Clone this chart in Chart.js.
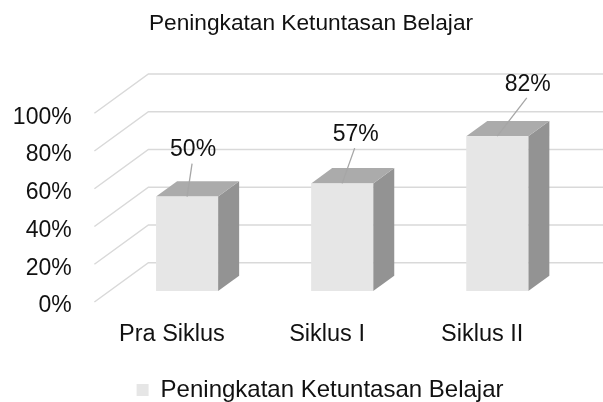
<!DOCTYPE html>
<html>
<head>
<meta charset="utf-8">
<script src="https://cdn.jsdelivr.net/npm/chart.js@4/dist/chart.umd.min.js"></script>
<style>
html,body{margin:0;padding:0;background:#fff;}
</style>
</head>
<body>
<canvas id="grafik" width="603" height="402"></canvas>
<script>
var KATEGORI=["Pra Siklus","Siklus I","Siklus II"];
var NILAI=[50,57,82];
var SERI="Peningkatan Ketuntasan Belajar";
var TICKS_Y=[0,20,40,60,80,100];

// 3D depth (pixels) and where the bars sit inside that depth
var DX=54, DY=-39.3;
var F1=0.28, F2=0.67;
// label position relative to the bar top (Excel moved them by hand)
var LABEL_OFF=[[6,-49],[13.5,-51.3],[30.5,-54.3]];
var FONT="'Liberation Sans', Arial, sans-serif";

function poly(ctx,pts){
	ctx.beginPath();
	ctx.moveTo(pts[0][0],pts[0][1]);
	for(var i=1;i<pts.length;i++) ctx.lineTo(pts[i][0],pts[i][1]);
	ctx.closePath();
	ctx.fill();
}

var efek3D={
	id:'efek3D',
	afterLayout:function(chart){
		// legend sits a bit left of the plot centre in the original
		chart.legend.left-=7;
		chart.legend.right-=7;
	},
	beforeDatasetsDraw:function(chart){
		var ctx=chart.ctx, y=chart.scales.y, area=chart.chartArea;
		ctx.save();
		// walls
		ctx.strokeStyle='#d9d9d9';
		ctx.lineWidth=1.5;
		y.ticks.forEach(function(t){
			var py=y.getPixelForValue(t.value);
			ctx.beginPath();
			ctx.moveTo(area.left,py);
			ctx.lineTo(area.left+DX,py+DY);
			ctx.lineTo(chart.width,py+DY);
			ctx.stroke();
		});
		var meta=chart.getDatasetMeta(0);
		var ddx=(F2-F1)*DX, ddy=(F2-F1)*DY;
		meta.data.forEach(function(bar,i){
			var w=bar.width/2;
			var x0=bar.x-w+F1*DX, x1=bar.x+w+F1*DX;
			var top=bar.y+F1*DY, base=bar.base+F1*DY;
			ctx.fillStyle='#939393';
			poly(ctx,[[x1,top],[x1+ddx,top+ddy],[x1+ddx,base+ddy],[x1,base]]);
			ctx.fillStyle='#ababab';
			poly(ctx,[[x0,top],[x0+ddx,top+ddy],[x1+ddx,top+ddy],[x1,top]]);
			ctx.fillStyle='#e6e6e6';
			ctx.fillRect(x0,top,x1-x0,base-top);
			// label + leader line
			var cx=(x0+x1)/2;
			var lx=cx+LABEL_OFF[i][0], ly=top+LABEL_OFF[i][1];
			ctx.strokeStyle='#a6a6a6';
			ctx.lineWidth=1.3;
			ctx.beginPath();
			ctx.moveTo(lx-1,ly+16);
			ctx.lineTo(cx,top);
			ctx.stroke();
			ctx.fillStyle='#111';
			ctx.font='23px '+FONT;
			ctx.textAlign='center';
			ctx.textBaseline='middle';
			ctx.fillText(NILAI[i]+'%',lx,ly+2.5);
		});
		ctx.restore();
		return false;
	}
};

new Chart(document.getElementById('grafik').getContext('2d'),{
	type:'bar',
	data:{
		labels:KATEGORI,
		datasets:[{
			label:SERI,
			data:NILAI,
			backgroundColor:'#e6e6e6',
			barPercentage:0.4,
			categoryPercentage:1
		}]
	},
	options:{
		responsive:false,
		animation:false,
		devicePixelRatio:1,
		layout:{padding:{left:12,right:-7,top:0,bottom:0}},
		scales:{
			x:{
				grid:{display:false,drawTicks:false},
				border:{display:false},
				ticks:{padding:18,color:'#111',font:{family:FONT,size:23.5}},
				afterFit:function(s){ s.height=70; }
			},
			y:{
				min:0,max:100,
				grid:{display:false,drawTicks:false},
				border:{display:false},
				afterBuildTicks:function(s){ s.ticks=TICKS_Y.map(function(v){return {value:v};}); },
				ticks:{padding:22.7,labelOffset:4,color:'#111',font:{family:FONT,size:23},callback:function(v){return v+'%';}},
				afterFit:function(s){ s.width=82.4; }
			},
			kanan:{
				position:'right',
				display:true,
				grid:{display:false,drawTicks:false},
				border:{display:false},
				ticks:{display:false},
				afterFit:function(s){ s.width=50.3; }
			}
		},
		plugins:{
			tooltip:{enabled:false},
			title:{
				display:true,
				text:SERI,
				color:'#111',
				font:{family:FONT,size:22.7,weight:'normal'},
				padding:{top:10,bottom:76}
			},
			legend:{
				position:'bottom',
				fullSize:false,
				maxHeight:30,
				labels:{boxWidth:12,boxHeight:12,padding:6,color:'#111',font:{family:FONT,size:24}}
			}
		}
	},
	plugins:[efek3D]
});
</script>
</body>
</html>
